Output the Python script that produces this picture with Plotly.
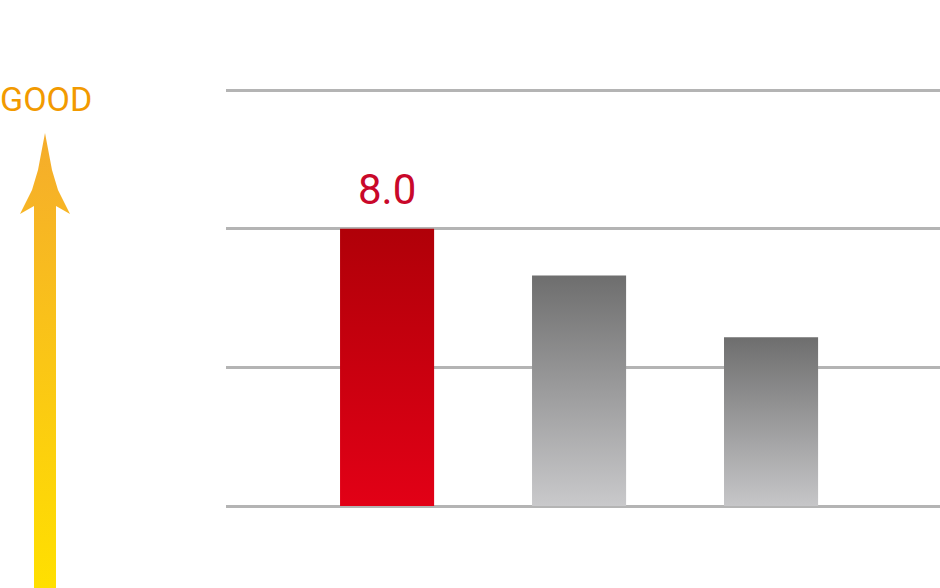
import plotly.graph_objects as go

# ---- data ----
categories = ["A", "B", "C"]
values = [8.0, 6.65, 4.87]
value_labels = ["8.0", "", ""]
grid_values = [0, 4, 8, 12]

# ---- styles ----
bar_top_colors = ["#b00008", "#6e6e6e", "#6e6e6e"]
bar_bottom_colors = ["#e20016", "#c9c9cb", "#c6c6c8"]
BAR_W = 0.49
FONT = "Roboto, sans-serif"

fig = go.Figure()

for i, (cat, v) in enumerate(zip(categories, values)):
    x0, x1 = i - BAR_W / 2, i + BAR_W / 2
    fig.add_trace(go.Scatter(
        x=[x0, x1, x1, x0, x0], y=[0, 0, v, v, 0],
        mode="lines", line=dict(width=0), fill="toself",
        fillgradient=dict(type="vertical", start=0, stop=v,
                          colorscale=[[0, bar_bottom_colors[i]], [1, bar_top_colors[i]]]),
        name=cat, hoverinfo="skip", showlegend=False))
    if value_labels[i]:
        fig.add_annotation(x=i, y=v, text=value_labels[i], showarrow=False,
                           yanchor="middle", yshift=39,
                           font=dict(family=FONT, size=42, color="#c9082a"))

# ---- decorative "GOOD" arrow on a pixel overlay ----
arrow_x = [45, 48, 52, 58, 70, 56, 56, 34, 34, 20, 32, 38, 42, 45]
arrow_y = [133, 150, 170, 190, 214, 206, 590, 590, 206, 214, 190, 170, 150, 133]
fig.add_trace(go.Scatter(
    x=arrow_x, y=arrow_y, xaxis="x2", yaxis="y2",
    mode="lines", line=dict(width=0), fill="toself",
    fillgradient=dict(type="vertical", start=133, stop=590,
                      colorscale=[[0, "#f5ac2c"], [1, "#ffe000"]]),
    hoverinfo="skip", showlegend=False))

fig.add_annotation(xref="paper", yref="paper", x=0, y=1 - 99 / 588,
                   xanchor="left", yanchor="middle", text="GOOD", showarrow=False,
                   xshift=-2,
                   font=dict(family=FONT, size=34, color="#f29a00"))

plot_px_per_unit = 416 / 12
fig.update_layout(
    width=940, height=588,
    margin=dict(l=0, r=0, t=0, b=0),
    paper_bgcolor="white", plot_bgcolor="rgba(0,0,0,0)",
    xaxis=dict(domain=[226 / 940, 1], range=[-0.839, 2.880],
               showgrid=False, zeroline=False, showticklabels=False, ticks=""),
    yaxis=dict(domain=[0, 1], range=[-82 / plot_px_per_unit, 506 / plot_px_per_unit],
               tickvals=grid_values, showticklabels=False, ticks="",
               showgrid=True, gridcolor="#b4b4b4", gridwidth=3, zeroline=False),
    xaxis2=dict(domain=[0, 1], range=[0, 940], visible=False, anchor="y2"),
    yaxis2=dict(domain=[0, 1], range=[588, 0], visible=False, anchor="x2"),
)

fig.write_html("out.html", config={"displayModeBar": False},
               post_script="document.body.style.margin='0';document.body.style.overflow='hidden';")
